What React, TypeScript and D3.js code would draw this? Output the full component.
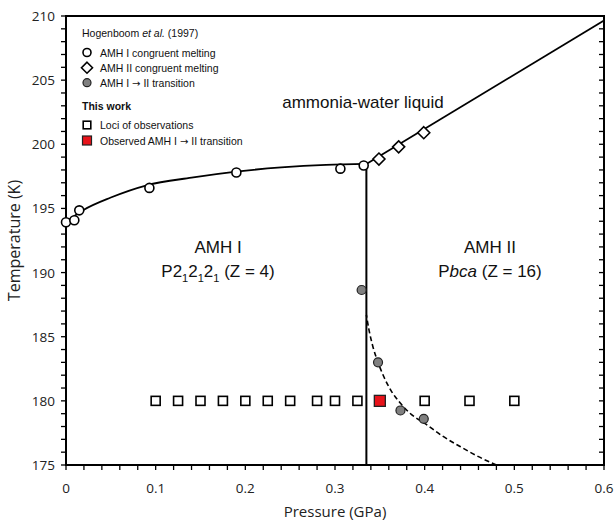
import React from "react";
import * as d3 from "d3";

const W = 615, H = 522;
const M = { left: 66, right: 604, top: 16, bottom: 465 };

// Hogenboom et al. (1997)
const amh1MeltP = [0, 0.0093, 0.0148, 0.093, 0.19, 0.306, 0.332];
const amh1MeltT = [193.92, 194.08, 194.85, 196.6, 197.8, 198.1, 198.35];
const amh2MeltP = [0.349, 0.371, 0.399];
const amh2MeltT = [198.85, 199.8, 200.9];
const transP = [0.3297, 0.348, 0.373, 0.399];
const transT = [188.64, 183.0, 179.25, 178.6];

// This work
const lociP = [0.1, 0.125, 0.15, 0.175, 0.2, 0.225, 0.25, 0.28, 0.3, 0.325, 0.4, 0.45, 0.5];
const lociT = 180;
const observedP = [0.35];
const observedT = [180];

// Phase boundaries
const meltCurveIP = [0, 0.02, 0.05, 0.09, 0.14, 0.19, 0.24, 0.29, 0.335];
const meltCurveIT = [193.95, 194.9, 195.85, 196.8, 197.4, 197.87, 198.2, 198.4, 198.47];
const meltCurveIIP = [0.335, 0.6];
const meltCurveIIT = [198.47, 209.65];
const verticalP = 0.335;
const dashP = [0.335, 0.338, 0.342, 0.348, 0.355, 0.3625, 0.3725, 0.385, 0.4, 0.42, 0.44, 0.46, 0.48];
const dashT = [186.7, 185.5, 184.3, 183.0, 181.8, 180.8, 179.85, 178.95, 178.25, 177.25, 176.42, 175.65, 175.0];

const xTicks = [0, 0.1, 0.2, 0.3, 0.4, 0.5, 0.6];
const yTicks = [175, 180, 185, 190, 195, 200, 205, 210];

export default function App() {
  const x = d3.scaleLinear().domain([0, 0.6]).range([M.left, M.right]);
  const y = d3.scaleLinear().domain([175, 210]).range([M.bottom, M.top]);
  const line = d3.line<[number, number]>().x(d => x(d[0])).y(d => y(d[1]));
  const smooth = d3.line<[number, number]>().x(d => x(d[0])).y(d => y(d[1])).curve(d3.curveMonotoneX);

  const meltI = meltCurveIP.map((p, i) => [p, meltCurveIT[i]] as [number, number]);
  const meltII = meltCurveIIP.map((p, i) => [p, meltCurveIIT[i]] as [number, number]);
  const dash = dashP.map((p, i) => [p, dashT[i]] as [number, number]);

  const xMinor = d3.range(0, 0.6001, 0.02);
  const yMinor = d3.range(175, 210.001, 1);

  const sansA = "'Liberation Sans', Arial, sans-serif";
  const sansO = "'Open Sans', 'DejaVu Sans', sans-serif";
  const arrowFont = "'DejaVu Sans', sans-serif";

  const diamond = (cx: number, cy: number, r: number) =>
    `M${cx},${cy - r}L${cx + r},${cy}L${cx},${cy + r}L${cx - r},${cy}Z`;

  const lx = 87, ltx = 100;
  return (
    <svg width={W} height={H} style={{ position: "absolute", left: 0, top: 0, background: "#fff" }}>
      {/* curves */}
      <path d={smooth(meltI) || ""} fill="none" stroke="#000" strokeWidth={1.8} />
      <path d={line(meltII) || ""} fill="none" stroke="#000" strokeWidth={1.8} />
      <line x1={x(verticalP)} x2={x(verticalP)} y1={y(meltCurveIT[meltCurveIT.length - 1])} y2={y(175)} stroke="#000" strokeWidth={2} />
      <path d={smooth(dash.slice().reverse()) || ""} fill="none" stroke="#000" strokeWidth={1.6} strokeDasharray="5,3" />

      {/* axes frame */}
      <rect x={M.left} y={M.top} width={M.right - M.left} height={M.bottom - M.top} fill="none" stroke="#000" strokeWidth={2} />
      {xMinor.map((v, i) => (
        <line key={"xm" + i} x1={x(v)} x2={x(v)} y1={M.bottom} y2={M.bottom + 5} stroke="#000" strokeWidth={1.3} />
      ))}
      {yMinor.map((v, i) => (
        <g key={"ym" + i}>
          <line x1={M.left - 5} x2={M.left} y1={y(v)} y2={y(v)} stroke="#000" strokeWidth={1.3} />
          <line x1={M.right - 5} x2={M.right} y1={y(v)} y2={y(v)} stroke="#000" strokeWidth={1.3} />
        </g>
      ))}
      {xTicks.map(v => (
        <text key={"xt" + v} x={x(v)} y={493} textAnchor="middle" fontFamily={sansO} fontSize={13.5} fill="#222">
          {v === 0 ? "0" : v.toFixed(1)}
        </text>
      ))}
      {yTicks.map(v => (
        <text key={"yt" + v} x={55} y={y(v) + 5} textAnchor="end" fontFamily={sansO} fontSize={13.5} fill="#222">
          {v}
        </text>
      ))}
      <text x={335} y={517} textAnchor="middle" fontFamily={sansO} fontSize={15} fill="#222">Pressure (GPa)</text>
      <text transform={`translate(20,${(M.top + M.bottom) / 2}) rotate(-90)`} textAnchor="middle" fontFamily={sansO} fontSize={16} fill="#222">Temperature (K)</text>

      {/* data markers */}
      {amh1MeltP.map((p, i) => (
        <circle key={"c1" + i} cx={x(p)} cy={y(amh1MeltT[i])} r={4.5} fill="#fff" stroke="#000" strokeWidth={1.6} />
      ))}
      {amh2MeltP.map((p, i) => (
        <path key={"d2" + i} d={diamond(x(p), y(amh2MeltT[i]), 6)} fill="#fff" stroke="#000" strokeWidth={1.6} />
      ))}
      {transP.map((p, i) => (
        <circle key={"tr" + i} cx={x(p)} cy={y(transT[i])} r={4.5} fill="#808080" stroke="#222" strokeWidth={1.2} />
      ))}
      {lociP.map((p, i) => (
        <rect key={"lo" + i} x={x(p) - 4.5} y={y(lociT) - 4.5} width={9} height={9} fill="#fff" stroke="#000" strokeWidth={1.6} />
      ))}
      {observedP.map((p, i) => (
        <rect key={"ob" + i} x={x(p) - 5.5} y={y(observedT[i]) - 5.5} width={11} height={11} fill="#e8131a" stroke="#222" strokeWidth={1.3} />
      ))}

      {/* region labels */}
      <text x={363} y={108} textAnchor="middle" fontFamily={sansA} fontSize={17} fill="#111">ammonia-water liquid</text>
      <text x={218} y={253} textAnchor="middle" fontFamily={sansA} fontSize={17} fill="#111">AMH I</text>
      <text x={218} y={277} textAnchor="middle" fontFamily={sansA} fontSize={17} fill="#111">
        P2<tspan fontSize={11} dy={5}>1</tspan><tspan dy={-5}>2</tspan><tspan fontSize={11} dy={5}>1</tspan><tspan dy={-5}>2</tspan><tspan fontSize={11} dy={5}>1</tspan><tspan dy={-5}> (Z = 4)</tspan>
      </text>
      <text x={490} y={253} textAnchor="middle" fontFamily={sansA} fontSize={17} fill="#111">AMH II</text>
      <text x={490} y={277} textAnchor="middle" fontFamily={sansA} fontSize={17} fill="#111">
        P<tspan fontStyle="italic">bca</tspan> (Z = 16)
      </text>

      {/* legend */}
      <g fontFamily={sansA} fontSize={10.5} fill="#111">
        <text x={82} y={37}>Hogenboom <tspan fontStyle="italic">et al.</tspan> (1997)</text>
        <circle cx={lx} cy={52.5} r={4} fill="#fff" stroke="#000" strokeWidth={1.6} />
        <text x={ltx} y={56.5}>AMH I congruent melting</text>
        <path d={diamond(lx, 67.7, 5.5)} fill="#fff" stroke="#000" strokeWidth={1.6} />
        <text x={ltx} y={71.5}>AMH II congruent melting</text>
        <circle cx={lx} cy={82.7} r={4} fill="#808080" stroke="#222" strokeWidth={1.2} />
        <text x={ltx} y={86.5}>AMH I <tspan fontFamily={arrowFont} fontSize={10}>→</tspan> II transition</text>
        <text x={82} y={110} fontWeight="bold">This work</text>
        <rect x={lx - 3.8} y={125 - 3.8} width={7.6} height={7.6} fill="#fff" stroke="#000" strokeWidth={1.6} />
        <text x={ltx} y={129}>Loci of observations</text>
        <rect x={lx - 4.5} y={140.5 - 4.5} width={9} height={9} fill="#e8131a" stroke="#222" strokeWidth={1.2} />
        <text x={ltx} y={144.5}>Observed AMH I <tspan fontFamily={arrowFont} fontSize={10}>→</tspan> II transition</text>
      </g>
    </svg>
  );
}
